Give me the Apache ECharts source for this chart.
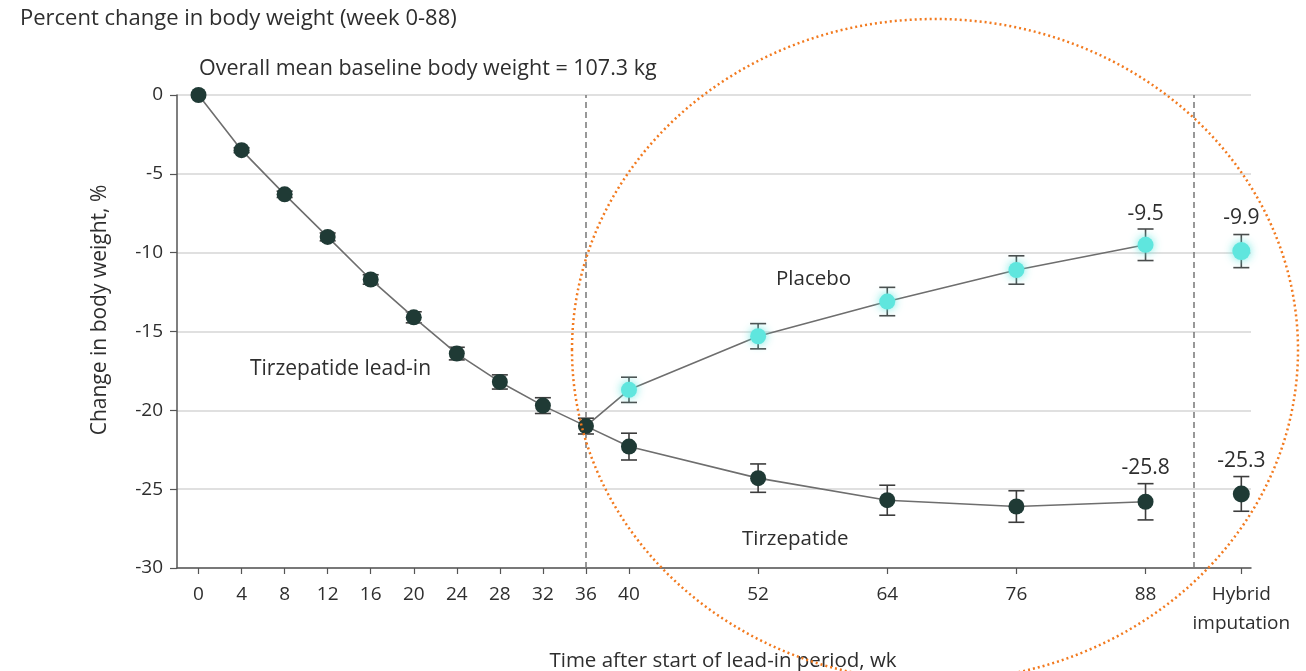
<!DOCTYPE html>
<html>
<head>
<meta charset="utf-8">
<script src="https://cdn.jsdelivr.net/npm/echarts@6/dist/echarts.min.js"></script>
<style>
html,body{margin:0;padding:0;background:#fff;}
#chart{width:1306px;height:671px;}
</style>
</head>
<body>
<div id="chart"></div>
<script>
// ---- data ----
const leadWeeks = [0, 4, 8, 12, 16, 20, 24, 28, 32, 36, 40, 52, 64, 76, 88];
const tirzepatide = [0, -3.5, -6.3, -9.0, -11.7, -14.1, -16.4, -18.2, -19.7, -21.0, -22.3, -24.3, -25.7, -26.1, -25.8];
const tirzepatideErr = [0, 0.15, 0.2, 0.25, 0.3, 0.35, 0.4, 0.45, 0.5, 0.5, 0.85, 0.9, 0.95, 1.0, 1.15];
const placeboWeeks = [36, 40, 52, 64, 76, 88];
const placebo = [-21.0, -18.7, -15.3, -13.1, -11.1, -9.5];
const placeboErr = [0, 0.8, 0.8, 0.9, 0.9, 1.0];
const hybridPos = 96.9;
const hybridTirzepatide = -25.3;
const hybridTirzepatideErr = 1.1;
const hybridPlacebo = -9.9;
const hybridPlaceboErr = 1.05;
const xTickValues = [0, 4, 8, 12, 16, 20, 24, 28, 32, 36, 40, 52, 64, 76, 88, hybridPos];
const hybridLabel = 'Hybrid\nimputation';
const dividers = [36, 92.5];
const labeledWeek = 88;

const FONT = '"Open Sans", "Noto Sans", sans-serif';
const TXT = '#2e2e2e';
const DARK = '#1f3a35';
const CYAN = '#5fe6de';

const chart = echarts.init(document.getElementById('chart'));

function errData(xs, ys, es) {
  return xs.map((x, i) => [x, ys[i] - es[i], ys[i] + es[i]]);
}
function errRender(color) {
  return function (params, api) {
    const x = api.value(0), lo = api.value(1), hi = api.value(2);
    if (hi - lo < 0.01) return null;
    const p1 = api.coord([x, hi]);
    const p2 = api.coord([x, lo]);
    const w = 8;
    const st = { stroke: color, lineWidth: 1.6 };
    return {
      type: 'group',
      children: [
        { type: 'line', shape: { x1: p1[0], y1: p1[1], x2: p2[0], y2: p2[1] }, style: st },
        { type: 'line', shape: { x1: p1[0] - w, y1: p1[1], x2: p1[0] + w, y2: p1[1] }, style: st },
        { type: 'line', shape: { x1: p2[0] - w, y1: p2[1], x2: p2[0] + w, y2: p2[1] }, style: st }
      ]
    };
  };
}

const tirzLine = leadWeeks.map((w, i) => [w, tirzepatide[i]]);
const placLine = placeboWeeks.map((w, i) => [w, placebo[i]]);

const valLabel = (dist) => ({
  show: true, position: 'top', distance: dist,
  formatter: p => p.value[1].toFixed(1),
  fontFamily: FONT, fontSize: 21, color: TXT
});

const option = {
  animation: false,
  backgroundColor: '#fff',
  grid: { left: 177, top: 95, width: 1074, height: 473, containLabel: false },
  xAxis: {
    type: 'value', min: -2, max: 97.8,
    axisLine: { show: true, onZero: false, lineStyle: { color: '#555', width: 1.5 } },
    axisTick: { show: true, customValues: xTickValues, length: 6, lineStyle: { color: '#555', width: 1.2 } },
    axisLabel: {
      customValues: xTickValues, margin: 12,
      fontFamily: FONT, fontSize: 19, color: TXT, lineHeight: 29,
      formatter: v => (Math.abs(v - hybridPos) < 0.01 ? hybridLabel : String(v))
    },
    splitLine: { show: false }
  },
  yAxis: {
    type: 'value', min: -30, max: 0, interval: 5,
    axisLine: { show: true, onZero: false, lineStyle: { color: '#555', width: 1.5 } },
    axisTick: { show: true, inside: false, length: 7, lineStyle: { color: '#555', width: 1.2 } },
    axisLabel: { margin: 14, fontFamily: FONT, fontSize: 19, color: TXT },
    splitLine: { show: true, lineStyle: { color: '#e0e0e0', width: 2 } }
  },
  series: [
    {
      type: 'line', name: 'divider', data: [], silent: true,
      markLine: {
        symbol: 'none', silent: true, label: { show: false },
        lineStyle: { color: '#777', type: [6, 4], width: 1.5 },
        data: dividers.map(d => ({ xAxis: d }))
      }
    },
    {
      type: 'custom', name: 'tirzErr', z: 3,
      renderItem: errRender('#3d3d3d'),
      data: errData(leadWeeks, tirzepatide, tirzepatideErr).concat(errData([hybridPos], [hybridTirzepatide], [hybridTirzepatideErr]))
    },
    {
      type: 'custom', name: 'placErr', z: 3,
      renderItem: errRender('#4a4a4a'),
      data: errData(placeboWeeks, placebo, placeboErr).concat(errData([hybridPos], [hybridPlacebo], [hybridPlaceboErr]))
    },
    {
      type: 'line', name: 'Placebo', z: 4,
      data: placLine.map((d, i) => i === 0 ? { value: d, symbol: 'none' } :
        (d[0] === labeledWeek ? { value: d, label: valLabel(12) } : d)),
      symbol: 'circle', symbolSize: 16,
      itemStyle: { color: CYAN, opacity: 1, shadowBlur: 10, shadowColor: 'rgba(95,230,222,0.9)' },
      lineStyle: { color: '#6e6e6e', width: 1.6 }
    },
    {
      type: 'line', name: 'Tirzepatide', z: 5,
      data: tirzLine.map(d => d[0] === labeledWeek ? { value: d, label: valLabel(15) } : d),
      symbol: 'circle', symbolSize: 16,
      itemStyle: { color: DARK, opacity: 1 },
      lineStyle: { color: '#6e6e6e', width: 1.6 }
    },
    {
      type: 'scatter', name: 'Hybrid placebo', z: 4,
      data: [{ value: [hybridPos, hybridPlacebo], label: valLabel(14) }],
      symbol: 'circle', symbolSize: 18,
      itemStyle: { color: CYAN, opacity: 1, shadowBlur: 10, shadowColor: 'rgba(95,230,222,0.9)' }
    },
    {
      type: 'scatter', name: 'Hybrid tirzepatide', z: 5,
      data: [{ value: [hybridPos, hybridTirzepatide], label: valLabel(14) }],
      symbol: 'circle', symbolSize: 17,
      itemStyle: { color: DARK, opacity: 1 }
    }
  ],
  graphic: [
    { type: 'text', left: 20, top: 8, style: { text: 'Percent change in body weight (week 0-88)', fontFamily: FONT, fontSize: 22, fill: TXT } },
    { type: 'text', left: 199, top: 58, style: { text: 'Overall mean baseline body weight = 107.3 kg', fontFamily: FONT, fontSize: 21.5, fill: TXT } },
    { type: 'text', left: 250, top: 359, style: { text: 'Tirzepatide lead-in', fontFamily: FONT, fontSize: 21, fill: TXT } },
    { type: 'text', left: 776, top: 269, style: { text: 'Placebo', fontFamily: FONT, fontSize: 20.5, fill: TXT } },
    { type: 'text', left: 742, top: 529, style: { text: 'Tirzepatide', fontFamily: FONT, fontSize: 20.5, fill: TXT } },
    { type: 'text', x: 723, y: 661, style: { text: 'Time after start of lead-in period, wk', fontFamily: FONT, fontSize: 20.5, fill: TXT, align: 'center', verticalAlign: 'middle' } },
    { type: 'text', x: 100, y: 310, rotation: Math.PI / 2, style: { text: 'Change in body weight, %', fontFamily: FONT, fontSize: 21, fill: TXT, align: 'center', verticalAlign: 'middle' } },
    { type: 'ellipse', z: 100, silent: true, shape: { cx: 935, cy: 350, rx: 363, ry: 331 },
      style: { fill: 'none', stroke: '#f27a1f', lineWidth: 2.5, lineDash: [2, 3] } }
  ]
};
chart.setOption(option);
</script>
</body>
</html>
